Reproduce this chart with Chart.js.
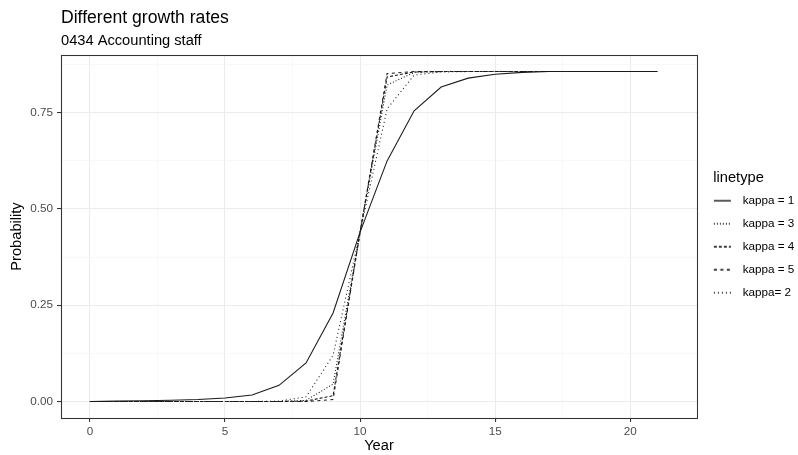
<!DOCTYPE html>
<html>
<head>
<meta charset="utf-8">
<title>Different growth rates</title>
<script src="https://cdn.jsdelivr.net/npm/chart.js@4.4.1/dist/chart.umd.min.js"></script>
<style>
  html, body { margin: 0; padding: 0; background: #fff; }
  #wrap { width: 798px; height: 455px; }
</style>
</head>
<body>
<div id="wrap"><canvas id="growthChart" width="798" height="455"></canvas></div>
<script>
// values
const years = [0, 1, 2, 3, 4, 5, 6, 7, 8, 9, 10, 11, 12, 13, 14, 15, 16, 17, 18, 19, 20, 21];
const kappa1 = [0, 0.001, 0.002, 0.003, 0.005, 0.009, 0.017, 0.042, 0.1, 0.23, 0.44, 0.625, 0.755, 0.817, 0.84, 0.85, 0.855, 0.857, 0.857, 0.857, 0.857, 0.857];
const kappa3 = [0, 0, 0, 0, 0, 0, 0, 0, 0.003, 0.045, 0.44, 0.822, 0.855, 0.857, 0.857, 0.857, 0.857, 0.857, 0.857, 0.857, 0.857, 0.857];
const kappa4 = [0, 0, 0, 0, 0, 0, 0, 0, 0.001, 0.015, 0.44, 0.843, 0.856, 0.857, 0.857, 0.857, 0.857, 0.857, 0.857, 0.857, 0.857, 0.857];
const kappa5 = [0, 0, 0, 0, 0, 0, 0, 0, 0, 0.005, 0.44, 0.852, 0.857, 0.857, 0.857, 0.857, 0.857, 0.857, 0.857, 0.857, 0.857, 0.857];
const kappa2 = [0, 0, 0, 0, 0, 0, 0, 0.001, 0.012, 0.12, 0.44, 0.76, 0.848, 0.856, 0.857, 0.857, 0.857, 0.857, 0.857, 0.857, 0.857, 0.857];

const seriesLabels = ["kappa = 1", "kappa = 3", "kappa = 4", "kappa = 5", "kappa= 2"];

const xMajorTicks = [0, 5, 10, 15, 20];
const xMinorTicks = [2.5, 7.5, 12.5, 17.5];
const yMajorTicks = [0, 0.25, 0.5, 0.75];
const yMinorTicks = [0.125, 0.375, 0.625, 0.875];
const yTickLabels = ["0.00", "0.25", "0.50", "0.75"];

const FONT = "'Liberation Sans', Arial, sans-serif";
const LINE_COLOR = "#1a1a1a";
Chart.defaults.font.family = FONT;

// legend geometry: the layout reserves 101px, the legend box is then widened
// and moved so title, keys and labels sit where ggplot put them
const LEGEND_W = 101;
const LEGEND_DRAW_W = 140;
const LEGEND_PAD = 11.3;
const KEY_LEN = 17;
const m = document.createElement("canvas").getContext("2d");
m.font = "14.67px " + FONT;
const legendTitleW = m.measureText("linetype").width;
const legendLeft = 713.3 + legendTitleW / 2 - LEGEND_DRAW_W / 2;
const keyOffset = Math.round(714 - LEGEND_PAD - legendLeft);
const keyBox = Math.round(742.7 - 11.7 / 2 - LEGEND_PAD - legendLeft);

function toPoints(values) {
  return values.map((v, i) => ({ x: years[i], y: v }));
}

function legendKey(dash) {
  const c = document.createElement("canvas");
  c.width = keyBox;
  c.height = 6;
  const k = c.getContext("2d");
  k.strokeStyle = "#000000";
  k.lineWidth = 1.3;
  k.setLineDash(dash || []);
  k.beginPath();
  k.moveTo(keyOffset, 3);
  k.lineTo(keyOffset + KEY_LEN, 3);
  k.stroke();
  return c;
}

// left-align the title and subtitle with the panel, and place the legend
const ggLayout = {
  id: "ggLayout",
  afterLayout(chart) {
    chart.boxes.forEach((b) => {
      if (b.position === "top" && b.options && typeof b.options.text === "string") {
        b.left = chart.chartArea.left;
      }
    });
    if (chart.legend) {
      chart.legend.left = legendLeft;
      chart.legend.width = LEGEND_DRAW_W;
      chart.legend.right = legendLeft + LEGEND_DRAW_W;
    }
  },
};

const panelBorder = {
  id: "panelBorder",
  afterDraw(chart) {
    const { ctx, chartArea: a } = chart;
    ctx.save();
    ctx.strokeStyle = "#333333";
    ctx.lineWidth = 1.07;
    const l = Math.floor(a.left) + 0.5;
    const t = Math.floor(a.top) + 0.5;
    ctx.strokeRect(l, t, Math.round(a.right - a.left), Math.round(a.bottom - a.top));
    ctx.restore();
  },
};

function gridStyle(majors) {
  return {
    color: (c) => (majors.includes(c.tick.value) ? "#ebebeb" : "#f3f3f3"),
    lineWidth: (c) => (majors.includes(c.tick.value) ? 1.07 : 0.6),
    tickColor: (c) => (majors.includes(c.tick.value) ? "#333333" : "rgba(0,0,0,0)"),
    tickLength: 4,
    tickWidth: 1.07,
  };
}

document.addEventListener("DOMContentLoaded", function () {
  const line = (label, values, dash) => ({
    label: label,
    data: toPoints(values),
    borderColor: LINE_COLOR,
    backgroundColor: LINE_COLOR,
    borderWidth: 1.07,
    borderDash: dash,
    pointRadius: 0,
    pointStyle: "line",
    fill: false,
    tension: 0,
  });

  new Chart(document.getElementById("growthChart"), {
    type: "line",
    data: {
      datasets: [
        line(seriesLabels[0], kappa1, []),
        line(seriesLabels[1], kappa3, [1, 2]),
        line(seriesLabels[2], kappa4, [3, 2]),
        line(seriesLabels[3], kappa5, [3, 3.5]),
        line(seriesLabels[4], kappa2, [1, 3]),
      ],
    },
    options: {
      responsive: false,
      animation: false,
      layout: { padding: { left: 0, right: 0, top: 0, bottom: 0 } },
      plugins: {
        title: {
          display: true,
          text: "Different growth rates",
          align: "start",
          color: "#000000",
          font: { size: 17.6, weight: "normal", lineHeight: 1.2 },
          padding: { top: 7.3, bottom: 0 },
        },
        subtitle: {
          display: true,
          text: "0434 Accounting staff",
          align: "start",
          color: "#000000",
          font: { size: 14.67, lineHeight: 1.2 },
          padding: { top: 3.4, bottom: 5.6 },
        },
        legend: {
          position: "right",
          fullSize: false,
          align: "center",
          maxWidth: LEGEND_W,
          title: {
            display: true,
            text: "linetype",
            position: "center",
            color: "#000000",
            font: { size: 14.67, lineHeight: 0.86 },
            padding: { top: 7.85, bottom: 0 },
          },
          labels: {
            usePointStyle: true,
            pointStyleWidth: keyBox,
            padding: LEGEND_PAD,
            color: "#000000",
            font: { size: 11.7 },
            generateLabels: (chart) =>
              Chart.defaults.plugins.legend.labels.generateLabels(chart).map((item) => ({
                ...item,
                pointStyle: legendKey(chart.data.datasets[item.datasetIndex].borderDash),
              })),
          },
        },
        tooltip: { enabled: false },
      },
      scales: {
        x: {
          type: "linear",
          min: -1.07,
          max: 22.47,
          bounds: "data",
          afterBuildTicks: (s) => {
            s.ticks = [...xMajorTicks, ...xMinorTicks].sort((a, b) => a - b).map((v) => ({ value: v }));
          },
          afterFit: (s) => {
            s.height = 37;
          },
          ticks: {
            autoSkip: false,
            maxRotation: 0,
            padding: 3,
            color: "#4d4d4d",
            font: { size: 11.7 },
            callback: (v) => (xMajorTicks.includes(v) ? String(v) : ""),
          },
          grid: gridStyle(xMajorTicks),
          border: { display: false },
          title: {
            display: true,
            text: "Year",
            color: "#000000",
            font: { size: 14.67 },
            padding: { top: 0, bottom: 0 },
          },
        },
        y: {
          type: "linear",
          min: -0.0429,
          max: 0.9,
          bounds: "data",
          afterBuildTicks: (s) => {
            s.ticks = [...yMajorTicks, ...yMinorTicks].sort((a, b) => a - b).map((v) => ({ value: v }));
          },
          afterFit: (s) => {
            s.width = 61;
          },
          ticks: {
            autoSkip: false,
            padding: 4,
            color: "#4d4d4d",
            font: { size: 11.7 },
            callback: (v) => {
              const i = yMajorTicks.indexOf(v);
              return i >= 0 ? yTickLabels[i] : "";
            },
          },
          grid: gridStyle(yMajorTicks),
          border: { display: false },
          title: {
            display: true,
            text: "Probability",
            color: "#000000",
            font: { size: 14.67 },
            padding: { top: 8, bottom: 0 },
          },
        },
      },
    },
    plugins: [ggLayout, panelBorder],
  });
});
</script>
</body>
</html>
